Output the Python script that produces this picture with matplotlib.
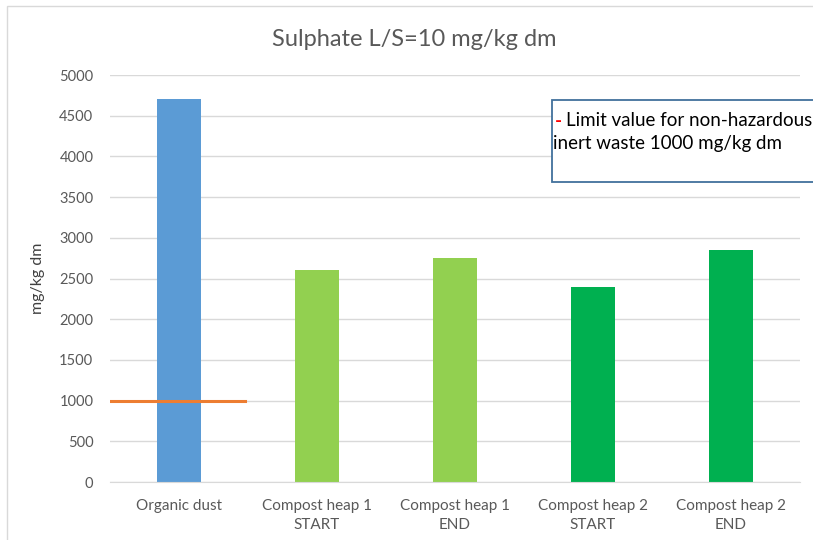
import numpy as np
import matplotlib as mpl
mpl.use('Agg')
import matplotlib.pyplot as plt
from matplotlib.patches import Rectangle

plt.rcParams['font.family'] = ['Lato', 'DejaVu Sans']

categories = ['Organic dust', 'Compost heap 1\nSTART', 'Compost heap 1\nEND',
              'Compost heap 2\nSTART', 'Compost heap 2\nEND']
values = [4700, 2600, 2750, 2400, 2850]
bar_colors = ['#5B9BD5', '#92D050', '#92D050', '#00B050', '#00B050']
limit_x = [-0.5, 0.48]
limit_y = [1000, 1000]

W, H = 813, 540
fig = plt.figure(figsize=(W / 100, H / 100), dpi=100)
ax = fig.add_axes([110 / W, 1 - 482 / H, 690 / W, 407 / H])

x = np.arange(len(categories))
ax.bar(x, values, width=0.32, color=bar_colors, zorder=2)
ax.plot(limit_x, limit_y, color='#ED7D31', linewidth=2.2, zorder=3)

ax.set_xlim(-0.5, len(categories) - 0.5)
ax.set_ylim(0, 5000)
ax.set_yticks(np.arange(0, 5001, 500))
ax.set_xticks(x)
ax.set_xticklabels(categories, fontsize=11, color='#595959', linespacing=1.45)
ax.tick_params(axis='y', labelsize=10.5, labelcolor='#595959', length=0, pad=12)
ax.tick_params(axis='x', length=0, pad=12)
ax.grid(axis='y', color='#D9D9D9', linewidth=1, zorder=0)
for s in ['top', 'right', 'left']:
    ax.spines[s].set_visible(False)
ax.spines['bottom'].set_color('#D9D9D9')
ax.set_ylabel('mg/kg dm', fontsize=11.5, color='#404040', labelpad=10)

fig.text(414 / W, 1 - 40 / H, 'Sulphate L/S=10 mg/kg dm', fontsize=17,
         color='#595959', ha='center', va='center')

# chart border
fig.patches.append(Rectangle((7 / W, -0.1), 1.2, 1 - 6 / H + 0.1,
                             transform=fig.transFigure, fill=False,
                             edgecolor='#D9D9D9', linewidth=1))

# text box for limit value
fig.patches.append(Rectangle((552 / W, 1 - 182 / H), 300 / W, 82 / H,
                             transform=fig.transFigure, facecolor='white',
                             edgecolor='#41719C', linewidth=1.3, zorder=5))
fig.text(555 / W, 1 - 121 / H, '-', fontsize=13.5, color='#FF0000',
         ha='left', va='center', zorder=6, fontweight='bold')
fig.text(566 / W, 1 - 121 / H, 'Limit value for non-hazardous', fontsize=13.5,
         color='black', ha='left', va='center', zorder=6)
fig.text(553 / W, 1 - 144 / H, 'inert waste 1000 mg/kg dm', fontsize=13.5,
         color='black', ha='left', va='center', zorder=6)

fig.savefig('out.png', dpi=100, facecolor='white')
